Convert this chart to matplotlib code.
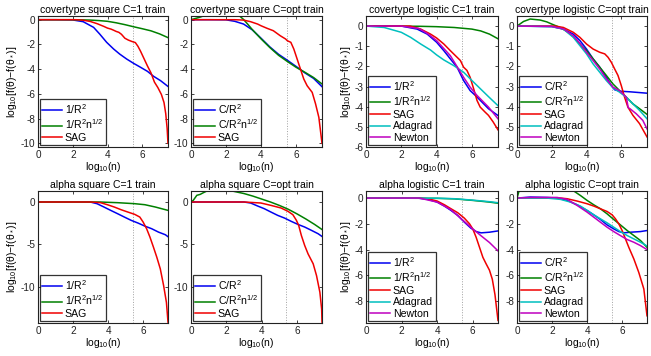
import matplotlib
matplotlib.use('Agg')
import matplotlib.pyplot as plt

plt.rcParams['font.family'] = ['Liberation Sans', 'DejaVu Sans']
plt.rcParams['mathtext.fontset'] = 'custom'
plt.rcParams['mathtext.rm'] = 'Liberation Sans'
plt.rcParams['mathtext.it'] = 'Liberation Sans:italic'
plt.rcParams['axes.unicode_minus'] = False

# x limits: log10 of 100 passes over the data
cov_xmax = 7.48
alp_xmax = 7.42
cov_pass = 5.46
alp_pass = 5.40

# covertype square C=1
cs1_r2_x = [0, 1, 2, 2.6, 3.2, 3.55, 3.95, 4.35, 4.7, 5.1, 5.5, 5.9, 6.3, 6.65, 7.05, 7.48]
cs1_r2_y = [0, 0, -0.02, -0.16, -0.62, -1.16, -1.83, -2.37, -2.78, -3.18, -3.53, -3.85, -4.18, -4.58, -4.93, -5.4]
cs1_sq_x = [0, 2, 3, 3.5, 4, 4.5, 5, 5.5, 6, 6.5, 7, 7.48]
cs1_sq_y = [0, 0, -0.03, -0.07, -0.13, -0.25, -0.4, -0.57, -0.73, -0.9, -1.15, -1.45]
cs1_sag_x = [0, 2.2, 2.6, 3.0, 3.4, 3.8, 4.0, 4.2, 4.35, 4.5, 4.65, 4.8, 5.0, 5.2, 5.4, 5.6, 5.75, 5.9,
             6.1, 6.3, 6.5, 6.7, 6.9, 7.1, 7.25, 7.35, 7.43, 7.48]
cs1_sag_y = [0, 0, -0.04, -0.14, -0.32, -0.55, -0.68, -0.76, -0.85, -0.95, -1.02, -1.18, -1.5, -1.65, -1.76,
             -1.85, -2.15, -2.55, -3.15, -3.75, -4.3, -5.05, -5.5, -6.05, -6.7, -7.6, -8.8, -10.0]

# covertype square C=opt
cso_r2_x = [0, 1, 2, 2.5, 3, 3.5, 4, 4.5, 5, 5.5, 6, 6.5, 7, 7.48]
cso_r2_y = [0, 0, -0.01, -0.13, -0.35, -0.82, -1.5, -2.2, -2.8, -3.28, -3.78, -4.3, -4.75, -5.42]
cso_sq_x = [0, 0.5, 1, 1.5, 2, 2.5, 2.8, 3.0, 3.25, 3.5, 4, 4.5, 5, 5.5, 6, 6.5, 7, 7.48]
cso_sq_y = [0, 0.2, 0.45, 0.6, 0.6, 0.45, 0.27, 0.02, -0.38, -0.8, -1.55, -2.25, -2.88, -3.38, -3.85, -4.25, -4.68, -5.2]
cso_sag_x = [0, 2.5, 3.0, 3.4, 3.8, 4.0, 4.35, 4.7, 5.1, 5.4, 5.5, 5.7, 5.87, 6.06, 6.25, 6.44, 6.63,
             6.92, 7.11, 7.3, 7.48]
cso_sag_y = [0, 0, -0.03, -0.16, -0.35, -0.49, -0.7, -0.89, -1.3, -1.56, -1.7, -1.83, -2.37, -3.18, -4.0,
             -4.8, -5.34, -5.88, -6.8, -7.9, -10.0]

# covertype logistic C=1
cl1_r2_x = [0, 2, 2.9, 3.47, 4.0, 4.41, 4.78, 5.16, 5.53, 5.9, 6.29, 6.66, 6.94, 7.48]
cl1_r2_y = [0, 0, -0.15, -0.4, -0.8, -1.22, -1.63, -2.04, -2.7, -3.2, -3.52, -3.85, -4.1, -4.44]
cl1_sq_x = [0, 3, 4, 5, 6, 6.5, 7, 7.48]
cl1_sq_y = [0, -0.01, -0.03, -0.07, -0.15, -0.24, -0.4, -0.63]
cl1_sag_x = [0, 2.5, 3.1, 3.66, 4.0, 4.41, 4.78, 5.07, 5.35, 5.53, 5.72, 5.9, 6.1, 6.29, 6.47, 6.75,
             6.94, 7.2, 7.48]
cl1_sag_y = [0, 0, -0.15, -0.4, -0.59, -0.89, -1.22, -1.47, -1.71, -2.04, -2.2, -2.54, -3.11, -3.69,
             -4.02, -4.27, -4.43, -4.75, -5.15]
cl1_ada_x = [0, 1.03, 2.0, 2.53, 3.1, 3.66, 4.0, 4.41, 4.97, 5.53, 6.0, 6.47, 6.94, 7.48]
cl1_ada_y = [0, -0.07, -0.31, -0.56, -0.89, -1.19, -1.43, -1.68, -1.96, -2.29, -2.7, -3.1, -3.5, -3.95]
cl1_nt_x = [0, 2, 3, 3.5, 4.0, 4.78, 5.53, 5.9, 6.29, 6.66, 6.94, 7.48]
cl1_nt_y = [0, 0, -0.12, -0.38, -0.72, -1.47, -2.54, -3.03, -3.44, -3.77, -4.02, -4.6]

# covertype logistic C=opt
clo_r2_x = [0, 2, 2.67, 3.24, 3.62, 4.0, 4.38, 4.76, 5.14, 5.43, 5.62, 5.9, 6.48, 7.48]
clo_r2_y = [0, -0.02, -0.15, -0.4, -0.72, -1.14, -1.63, -2.04, -2.54, -2.95, -3.16, -3.23, -3.26, -3.33]
clo_sq_x = [0, 0.38, 0.76, 1.33, 1.71, 2.0, 2.48, 2.86, 3.24, 3.62, 4.0, 4.38, 4.76, 5.14, 5.52, 5.9,
            6.29, 6.67, 7.05, 7.48]
clo_sq_y = [0, 0.23, 0.35, 0.3, 0.21, 0.1, -0.07, -0.26, -0.53, -0.89, -1.22, -1.63, -2.04, -2.45, -2.87,
            -3.2, -3.53, -3.86, -4.1, -4.38]
clo_sag_x = [0, 2.2, 2.67, 3.24, 3.62, 4.0, 4.38, 4.76, 5.05, 5.24, 5.43, 5.62, 5.81, 6.0, 6.19, 6.38,
             6.67, 7.05, 7.48]
clo_sag_y = [0, 0, -0.07, -0.31, -0.56, -0.89, -1.14, -1.3, -1.38, -1.55, -1.8, -2.13, -2.45, -2.95,
             -3.53, -4.02, -4.43, -4.84, -5.5]
clo_ada_x = [0, 2, 2.67, 3.24, 3.62, 4.0, 4.38, 4.76, 5.14, 5.52, 5.9, 6.29, 6.67, 7.05, 7.48]
clo_ada_y = [0, -0.03, -0.15, -0.56, -0.97, -1.38, -1.88, -2.29, -2.7, -3.06, -3.28, -3.53, -3.86, -4.18, -4.6]
clo_nt_x = [0, 2, 2.67, 3.24, 3.62, 4.0, 4.38, 4.76, 5.14, 5.52, 5.9, 6.29, 6.4, 6.5, 6.86, 7.24, 7.48]
clo_nt_y = [0, -0.02, -0.14, -0.48, -0.86, -1.3, -1.71, -2.13, -2.62, -3.03, -3.2, -3.53, -4.05, -4.1,
            -4.35, -4.68, -5.1]

# alpha square C=1
as1_r2_x = [0, 2.98, 3.37, 3.76, 4.15, 4.54, 4.93, 5.32, 5.71, 6.1, 6.49, 6.88, 7.27, 7.42]
as1_r2_y = [0, 0, -0.2, -0.59, -0.99, -1.38, -1.78, -2.17, -2.49, -2.85, -3.16, -3.56, -3.87, -4.1]
as1_sq_x = [0, 3.5, 4.54, 5.52, 6.1, 6.69, 7.42]
as1_sq_y = [0, 0, -0.08, -0.2, -0.32, -0.59, -0.99]
as1_sag_x = [0, 3.0, 3.57, 3.96, 4.35, 4.74, 5.13, 5.52, 5.81, 6.0, 6.2, 6.39, 6.59, 6.78, 6.98, 7.17,
             7.33, 7.42]
as1_sag_y = [0, 0, -0.08, -0.32, -0.59, -0.91, -1.19, -1.46, -1.78, -2.37, -3.16, -4.15, -5.34, -6.52,
             -7.9, -9.88, -11.86, -14.2]

# alpha square C=opt
aso_r2_x = [0, 3.0, 3.38, 3.77, 4.15, 4.53, 4.91, 5.3, 5.68, 6.06, 6.44, 6.83, 7.2, 7.42]
aso_r2_y = [0, 0, -0.12, -0.47, -0.79, -1.19, -1.58, -1.9, -2.29, -2.65, -2.96, -3.36, -3.75, -4.07]
aso_sq_x = [0, 0.13, 0.33, 0.52, 0.7, 0.9, 1.5, 2.33, 3.0, 3.5, 4.0, 4.5, 5.0, 5.5, 6.0, 6.5, 7.0, 7.42]
aso_sq_y = [0, 0.2, 0.79, 0.9, 1.1, 1.3, 1.6, 1.3, 1.0, 0.7, 0.35, 0.0, -0.4, -0.85, -1.4, -2.0, -2.65, -3.25]
aso_sag_x = [0, 3.0, 3.96, 4.53, 5.1, 5.49, 5.77, 5.97, 6.1, 6.25, 6.44, 6.63, 6.92, 7.11, 7.3, 7.4, 7.42]
aso_sag_y = [0, 0, -0.12, -0.4, -0.71, -1.1, -1.5, -2.17, -2.77, -3.95, -5.14, -6.13, -7.3, -8.7, -10.67,
             -12.65, -14.2]

# alpha logistic C=1
al1_r2_x = [0, 2.9, 3.47, 4.0, 4.41, 4.78, 5.16, 5.53, 5.9, 6.19, 6.47, 6.94, 7.42]
al1_r2_y = [0, 0, -0.1, -0.31, -0.62, -0.96, -1.35, -1.87, -2.34, -2.6, -2.7, -2.65, -2.55]
al1_sq_x = [0, 4.0, 4.97, 6.0, 6.94, 7.42]
al1_sq_y = [0, -0.02, -0.06, -0.18, -0.31, -0.4]
al1_ada_x = [0, 4.0, 4.97, 6.0, 6.94, 7.42]
al1_ada_y = [0, -0.01, -0.05, -0.16, -0.28, -0.36]
al1_sag_x = [0, 3.0, 3.47, 4.0, 4.41, 4.78, 5.16, 5.53, 5.82, 6.0, 6.19, 6.38, 6.57, 6.75, 6.94, 7.1,
             7.25, 7.42]
al1_sag_y = [0, 0, -0.05, -0.23, -0.52, -0.83, -1.14, -1.56, -2.0, -2.39, -3.04, -3.82, -4.6, -5.1,
             -5.6, -6.3, -7.5, -9.5]
al1_nt_x = [0, 3.0, 4.0, 4.78, 5.53, 6.0, 6.47, 6.94, 7.42]
al1_nt_y = [0, 0, -0.31, -0.91, -1.82, -2.39, -2.93, -3.45, -4.1]

# alpha logistic C=opt
alo_r2_x = [0, 0.76, 1.71, 2.29, 2.86, 3.43, 4.0, 4.38, 4.76, 5.14, 5.52, 5.81, 6.1, 6.48, 7.05, 7.42]
alo_r2_y = [0, 0.08, 0.05, 0, -0.18, -0.52, -0.96, -1.3, -1.66, -2.08, -2.39, -2.6, -2.7, -2.65, -2.6, -2.52]
alo_sq_x = [0, 0.1, 0.2, 1.5, 3.0, 3.24, 3.62, 4.0, 4.38, 4.76, 5.14, 5.52, 5.9, 6.29, 6.67, 7.05, 7.42]
alo_sq_y = [0, 0.47, 0.8, 1.2, 0.8, 0.55, 0.2, -0.18, -0.52, -0.83, -1.22, -1.66, -2.08, -2.52, -2.91,
            -3.3, -3.82]
alo_sag_x = [0, 2.5, 2.86, 3.43, 4.0, 4.38, 4.76, 5.14, 5.43, 5.62, 5.81, 6.0, 6.19, 6.38, 6.67, 6.95,
             7.24, 7.42]
alo_sag_y = [0, 0, -0.05, -0.23, -0.44, -0.62, -0.83, -1.04, -1.3, -1.61, -2.0, -2.52, -3.17, -3.82,
             -4.73, -5.77, -7.06, -9.14]
alo_ada_x = [0, 1.71, 2.48, 3.05, 3.62, 4.0, 4.38, 4.76, 5.14, 5.52, 5.9, 6.29, 6.67, 7.05, 7.42]
alo_ada_y = [0, 0, -0.1, -0.31, -0.62, -0.96, -1.3, -1.61, -1.92, -2.26, -2.6, -2.91, -3.17, -3.43, -3.72]
alo_nt_x = [0, 0.76, 2.29, 2.86, 3.43, 4.0, 4.38, 4.76, 5.14, 5.52, 5.9, 6.29, 6.67, 7.05, 7.42]
alo_nt_y = [0, 0.05, 0.05, -0.1, -0.57, -1.09, -1.48, -1.87, -2.26, -2.6, -2.91, -3.22, -3.43, -3.69, -4.0]

C_BLUE = '#0000f0'
C_GREEN = '#008000'
C_RED = '#f00000'
C_CYAN = '#00bfbf'
C_MAG = '#bf00bf'

lab_r2 = ['1/R$^2$', 'C/R$^2$']
lab_sq = ['1/R$^2$n$^{1/2}$', 'C/R$^2$n$^{1/2}$']
ylab = 'log$_{10}$[f(θ)$-$f(θ$_*$)]'

W, H = 651.0, 356.0
col_px = [(38, 130), (191, 131), (366, 132), (517, 130)]
row_px = [(16, 131), (191, 132)]

FS_TICK = 7.2
FS_LAB = 7.5
FS_LEG = 7.6

def make_axes(row, col):
    l, w = col_px[col]
    t, h = row_px[row]
    return fig.add_axes([l / W, 1 - (t + h) / H, w / W, h / H])

def draw(ax, series, title, xmax, xpass, ylim, yticks, opt, ylabel):
    ax.axvline(xpass, color='#a0a0a0', ls=':', lw=0.7)
    names = [lab_r2[opt], lab_sq[opt], 'SAG', 'Adagrad', 'Newton']
    for (x, y, c), name in zip(series, names):
        ax.plot(x, y, color=c, lw=1.1, label=name)
    ax.set_xlim(0, xmax)
    ax.set_ylim(*ylim)
    ax.set_xticks([0, 2, 4, 6])
    ax.set_yticks(yticks)
    ax.tick_params(direction='in', length=2.5, width=0.6, labelsize=FS_TICK, pad=2,
                   top=True, right=True, colors='#222222')
    for s in ax.spines.values():
        s.set_linewidth(0.8)
        s.set_color('#222222')
    ax.set_title(title, fontsize=FS_LAB, pad=2)
    ax.set_xlabel('log$_{10}$(n)', fontsize=FS_LAB, labelpad=0)
    if ylabel:
        ax.set_ylabel(ylab, fontsize=FS_LAB, labelpad=1)
    leg = ax.legend(loc='lower left', fontsize=FS_LEG, frameon=True, fancybox=False,
                    borderaxespad=0.15, handlelength=1.9, handletextpad=0.25,
                    labelspacing=0.15, borderpad=0.25)
    leg.get_frame().set_edgecolor('k')
    leg.get_frame().set_linewidth(0.9)


fig = plt.figure(figsize=(6.51, 3.56), dpi=100)

sq_top = dict(ylim=(-10.3, 0.3), yticks=[0, -2, -4, -6, -8, -10])
sq_bot = dict(ylim=(-14.3, 1.3), yticks=[0, -5, -10])
lg_top = dict(ylim=(-6, 0.5), yticks=[0, -1, -2, -3, -4, -5, -6])
lg_bot = dict(ylim=(-9.7, 0.55), yticks=[0, -2, -4, -6, -8])

draw(make_axes(0, 0),
     [(cs1_r2_x, cs1_r2_y, C_BLUE), (cs1_sq_x, cs1_sq_y, C_GREEN), (cs1_sag_x, cs1_sag_y, C_RED)],
     'covertype square C=1 train', cov_xmax, cov_pass, opt=0, ylabel=True, **sq_top)
draw(make_axes(0, 1),
     [(cso_r2_x, cso_r2_y, C_BLUE), (cso_sq_x, cso_sq_y, C_GREEN), (cso_sag_x, cso_sag_y, C_RED)],
     'covertype square C=opt train', cov_xmax, cov_pass, opt=1, ylabel=False, **sq_top)
draw(make_axes(0, 2),
     [(cl1_r2_x, cl1_r2_y, C_BLUE), (cl1_sq_x, cl1_sq_y, C_GREEN), (cl1_sag_x, cl1_sag_y, C_RED),
      (cl1_ada_x, cl1_ada_y, C_CYAN), (cl1_nt_x, cl1_nt_y, C_MAG)],
     'covertype logistic C=1 train', cov_xmax, cov_pass, opt=0, ylabel=True, **lg_top)
draw(make_axes(0, 3),
     [(clo_r2_x, clo_r2_y, C_BLUE), (clo_sq_x, clo_sq_y, C_GREEN), (clo_sag_x, clo_sag_y, C_RED),
      (clo_ada_x, clo_ada_y, C_CYAN), (clo_nt_x, clo_nt_y, C_MAG)],
     'covertype logistic C=opt train', cov_xmax, cov_pass, opt=1, ylabel=False, **lg_top)
draw(make_axes(1, 0),
     [(as1_r2_x, as1_r2_y, C_BLUE), (as1_sq_x, as1_sq_y, C_GREEN), (as1_sag_x, as1_sag_y, C_RED)],
     'alpha square C=1 train', alp_xmax, alp_pass, opt=0, ylabel=True, **sq_bot)
draw(make_axes(1, 1),
     [(aso_r2_x, aso_r2_y, C_BLUE), (aso_sq_x, aso_sq_y, C_GREEN), (aso_sag_x, aso_sag_y, C_RED)],
     'alpha square C=opt train', alp_xmax, alp_pass, opt=1, ylabel=False, **sq_bot)
draw(make_axes(1, 2),
     [(al1_r2_x, al1_r2_y, C_BLUE), (al1_sq_x, al1_sq_y, C_GREEN), (al1_sag_x, al1_sag_y, C_RED),
      (al1_ada_x, al1_ada_y, C_CYAN), (al1_nt_x, al1_nt_y, C_MAG)],
     'alpha logistic C=1 train', alp_xmax, alp_pass, opt=0, ylabel=True, **lg_bot)
draw(make_axes(1, 3),
     [(alo_r2_x, alo_r2_y, C_BLUE), (alo_sq_x, alo_sq_y, C_GREEN), (alo_sag_x, alo_sag_y, C_RED),
      (alo_ada_x, alo_ada_y, C_CYAN), (alo_nt_x, alo_nt_y, C_MAG)],
     'alpha logistic C=opt train', alp_xmax, alp_pass, opt=1, ylabel=False, **lg_bot)

fig.savefig('out.png', dpi=100)
